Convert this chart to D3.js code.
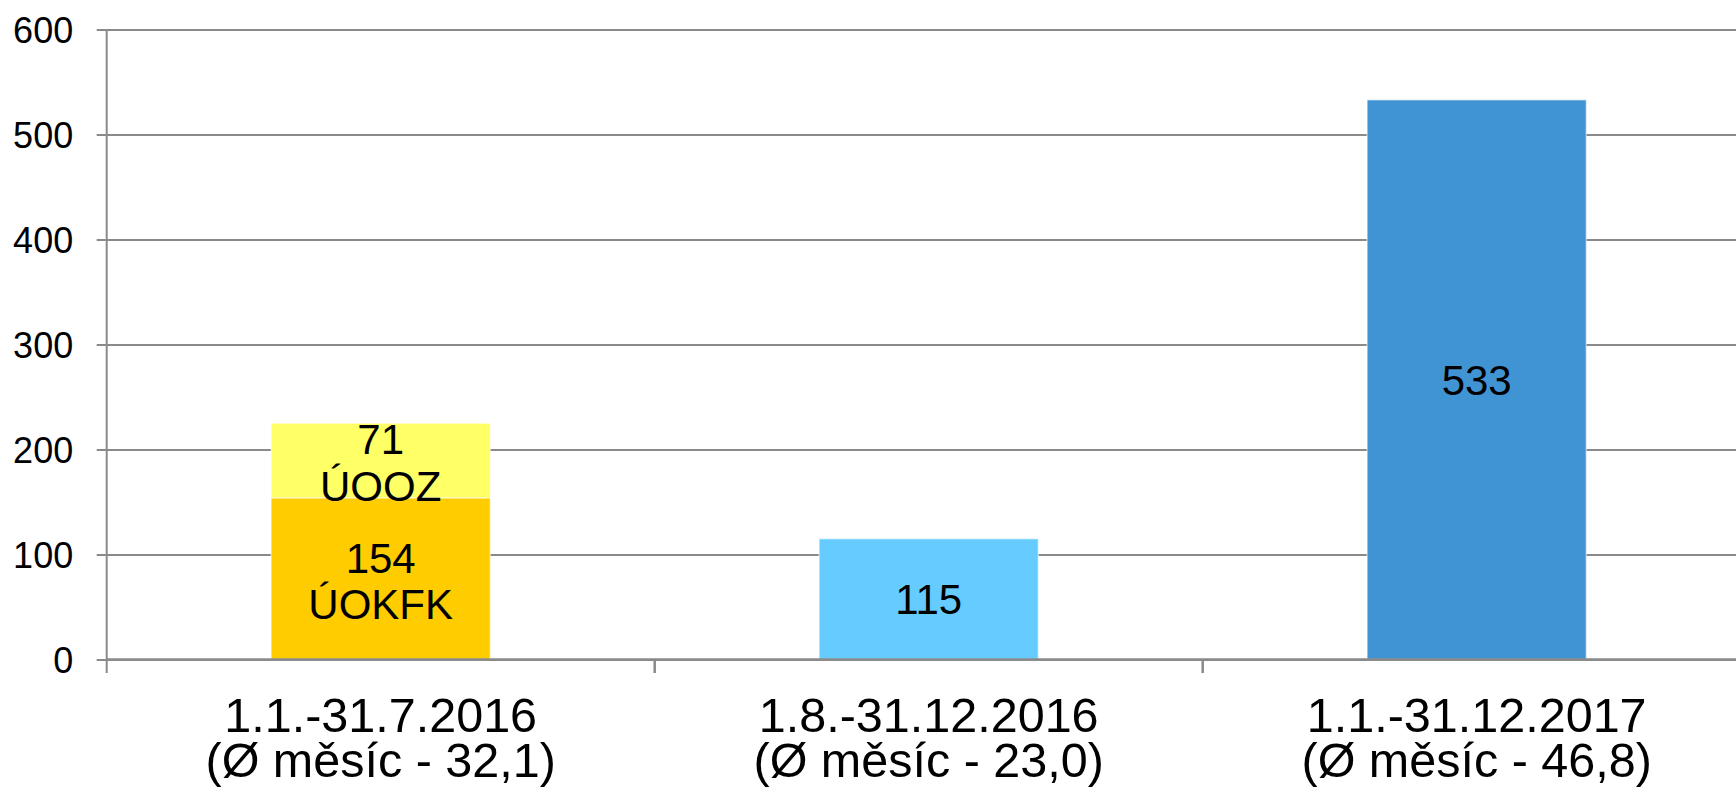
<!DOCTYPE html>
<html>
<head>
<meta charset="utf-8">
<script src="https://cdn.jsdelivr.net/npm/d3@7"></script>
<style>
	body { margin: 0; background: #fff; }
	svg text { font-family: "Liberation Sans", Arial, sans-serif; fill: #000; }
</style>
</head>
<body>
<svg id="chart"></svg>
<script>
// Data
const periods = ["1.1.-31.7.2016", "1.8.-31.12.2016", "1.1.-31.12.2017"];
const monthAvg = ["32,1", "23,0", "46,8"];
const seriesKeys = ["uokfk", "uooz", "h2016", "y2017"];
const seriesNames = ["ÚOKFK", "ÚOOZ", "", ""];
const uokfk = [154, 0, 0];
const uooz = [71, 0, 0];
const h2016 = [0, 115, 0];
const y2017 = [0, 0, 533];
const yTicks = [0, 100, 200, 300, 400, 500, 600];

const seriesColors = ["#FFCC00", "#FFFF66", "#66CCFF", "#4094D4"];

const WIDTH = 1736, HEIGHT = 796;
const MARGIN = {top: 29.5, left: 106.7, bottom: 136.5};
const PLOT_RIGHT = 1750.7; // last category runs past the window edge
const CHART_HEIGHT = HEIGHT - MARGIN.top - MARGIN.bottom;

const svg = d3.select("#chart").attr("width", WIDTH).attr("height", HEIGHT);

const xScale = d3.scaleBand().domain(periods).range([MARGIN.left, PLOT_RIGHT]).padding(0);
const yScale = d3.scaleLinear().domain([0, 600]).range([MARGIN.top + CHART_HEIGHT, MARGIN.top]);

// table for the stack
const rows = periods.map((p, i) => ({
	period: p, uokfk: uokfk[i], uooz: uooz[i], h2016: h2016[i], y2017: y2017[i]
}));
const stacked = d3.stack().keys(seriesKeys)(rows);

const GRID = "#8a8a8a";

// Gridlines + y ticks
svg.append("g")
	.attr("transform", `translate(${MARGIN.left},0)`)
	.call(d3.axisLeft(yScale).tickValues(yTicks).tickSize(10).tickSizeOuter(0).tickFormat(d3.format("d")))
	.call(g => g.select(".domain").remove())
	.call(g => g.selectAll(".tick line").attr("stroke", GRID).attr("stroke-width", 2))
	.call(g => g.selectAll(".tick text").attr("x", -33.5).attr("dy", "0.36em").style("font-size", "36px"))
	.call(g => g.selectAll(".tick").append("line")
		.attr("x1", 0).attr("x2", PLOT_RIGHT - MARGIN.left)
		.attr("stroke", GRID).attr("stroke-width", 2));

// Bars
const BAR_W = xScale.bandwidth() * 0.4;
const layers = svg.append("g").selectAll("g")
	.data(stacked)
	.join("g")
	.attr("fill", (d, i) => seriesColors[i]);

layers.selectAll("rect")
	.data(d => d.filter(s => s[1] - s[0] > 0))
	.join("rect")
	.attr("x", d => xScale(d.data.period) + (xScale.bandwidth() - BAR_W) / 2)
	.attr("width", BAR_W)
	.attr("y", d => yScale(d[1]))
	.attr("height", d => yScale(d[0]) - yScale(d[1]))
	.attr("stroke", "rgba(255,255,255,0.45)")
	.attr("stroke-width", 1.5);

// Data labels
stacked.forEach((layer, i) => {
	layer.filter(s => s[1] - s[0] > 0).forEach(s => {
		const cx = xScale(s.data.period) + xScale.bandwidth() / 2;
		const cy = (yScale(s[0]) + yScale(s[1])) / 2 + (seriesNames[i] ? 2 : 0);
		const lines = [String(s[1] - s[0])];
		if (seriesNames[i]) lines.push(seriesNames[i]);
		const LH = 46.5;
		const t = svg.append("text")
			.attr("text-anchor", "middle")
			.style("font-size", "42px");
		lines.forEach((txt, j) => {
			t.append("tspan")
				.attr("x", cx)
				.attr("y", cy - (lines.length - 1) * LH / 2 + j * LH)
				.attr("dy", "0.36em")
				.text(txt);
		});
	});
});

svg.append("line")
	.attr("x1", MARGIN.left).attr("x2", MARGIN.left)
	.attr("y1", yScale(600)).attr("y2", yScale(0) + 13.5)
	.attr("stroke", GRID).attr("stroke-width", 2);

svg.append("line")
	.attr("x1", MARGIN.left).attr("x2", PLOT_RIGHT)
	.attr("y1", yScale(0)).attr("y2", yScale(0))
	.attr("stroke", GRID).attr("stroke-width", 2.5);

// category boundary ticks
svg.append("g").selectAll("line")
	.data(periods.slice(1))
	.join("line")
	.attr("x1", d => xScale(d)).attr("x2", d => xScale(d))
	.attr("y1", yScale(0)).attr("y2", yScale(0) + 13.5)
	.attr("stroke", GRID).attr("stroke-width", 2.5);

// Category labels, two lines
const catX = d => xScale(d) + xScale.bandwidth() / 2;

svg.append("g").selectAll("text")
	.data(periods)
	.join("text")
	.attr("text-anchor", "middle")
	.style("font-size", "48.5px")
	.attr("x", catX)
	.attr("y", 732)
	.text(d => d);

svg.append("g").selectAll("text")
	.data(periods)
	.join("text")
	.attr("text-anchor", "middle")
	.style("font-size", "48.5px")
	.attr("x", catX)
	.attr("y", 777)
	.text((d, i) => `(Ø měsíc - ${monthAvg[i]})`);
</script>
</body>
</html>
